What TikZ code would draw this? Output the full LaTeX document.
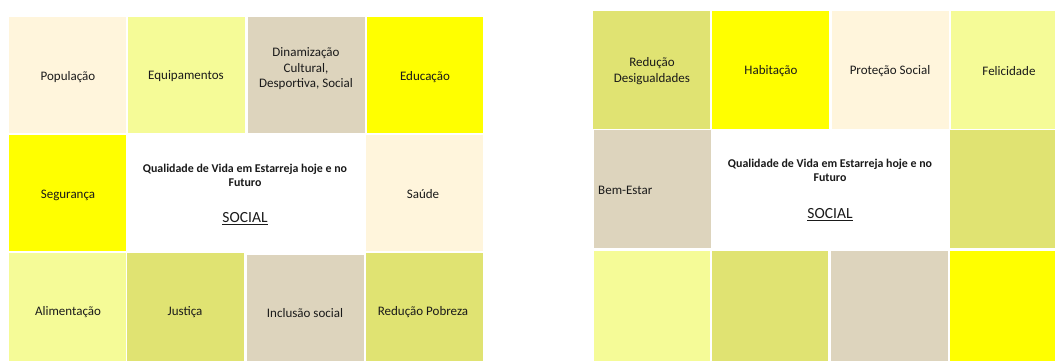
\documentclass[tikz,border=0pt]{standalone}
\usepackage{fontspec}
\setmainfont{Carlito}
\definecolor{cream}{HTML}{FFF5DC}
\definecolor{lightyel}{HTML}{F5FB97}
\definecolor{tan}{HTML}{DDD4BD}
\definecolor{yel}{HTML}{FFFF00}
\definecolor{olive}{HTML}{E0E372}
\definecolor{txt}{HTML}{1A1A1A}
\newcommand\cellbox[6]{\node[box,fill=#2,minimum width=#5pt-#3pt,minimum height=#6pt-#4pt] (#1) at (#3,#4) {};}
\begin{document}
\begin{tikzpicture}[x=1pt,y=-1pt,
  box/.style={draw=none,inner sep=0pt,outer sep=0pt,anchor=north west},
  lbl/.style={font=\fontsize{13}{15.5}\selectfont,text=txt,align=center,inner sep=0pt},
  title/.style={font=\bfseries\fontsize{11.9}{14}\selectfont,text=txt,align=center,inner sep=0pt},
  soc/.style={font=\fontsize{15.5}{18}\selectfont,text=txt,inner sep=0pt}]
\useasboundingbox (0,0) rectangle (1055,360);
\clip (0,0) rectangle (1055,360);
\fill[white] (0,0) rectangle (1055,360);
% left grid
\cellbox{pop}{cream}{9}{17}{126}{133}
\cellbox{equip}{lightyel}{128}{17}{245}{133}
\cellbox{dinam}{tan}{248}{17}{365}{133}
\cellbox{educ}{yel}{367}{17}{483}{133}
\cellbox{seg}{yel}{9}{135}{126}{251}
\cellbox{saude}{cream}{366}{135}{483}{251}
\cellbox{alim}{lightyel}{9}{253}{126}{370}
\cellbox{just}{olive}{127}{253}{244}{370}
\cellbox{incl}{tan}{247}{255}{364}{372}
\cellbox{redp}{olive}{366}{253}{483}{370}
% right grid
\cellbox{redd}{olive}{593}{11}{710}{129}
\cellbox{hab}{yel}{712}{11}{829}{129}
\cellbox{prot}{cream}{832}{11}{949}{129}
\cellbox{feli}{lightyel}{951}{11}{1068}{129}
\cellbox{bem}{tan}{594}{130}{711}{248}
\cellbox{rmid}{olive}{950}{130}{1067}{248}
\cellbox{rba}{lightyel}{594}{251}{710}{368}
\cellbox{rbb}{olive}{712}{251}{828}{368}
\cellbox{rbc}{tan}{831}{251}{948}{368}
\cellbox{rbd}{yel}{950}{251}{1067}{368}
% left labels
\node[lbl] (tpop) at (68,77) {População};
\node[lbl] (tequip) at (186,76) {Equipamentos};
\node[lbl] (tdinam) at (306,69) {Dinamização\\Cultural,\\Desportiva, Social};
\node[lbl] (teduc) at (425,77) {Educação};
\node[lbl] (tseg) at (68,195) {Segurança};
\node[lbl] (tsaude) at (423,194) {Saúde};
\node[lbl] (talim) at (68,312) {Alimentação};
\node[lbl] (tjust) at (185,312) {Justiça};
\node[lbl] (tincl) at (305,313) {Inclusão social};
\node[lbl] (tredp) at (423,312) {Redução Pobreza};
\node[title] (lq) at (245,175) {Qualidade de Vida em Estarreja hoje e no\\Futuro};
\node[soc] (ls) at (245,219) {\underline{SOCIAL}};
% right labels
\node[lbl] (tredd) at (652,71) {Redução\\Desigualdades};
\node[lbl] (thab) at (771,71) {Habitação};
\node[lbl] (tprot) at (890,71) {Proteção Social};
\node[lbl] (tfeli) at (1009,71) {Felicidade};
\node[lbl,anchor=west] (tbem) at (598,190) {Bem-Estar};
\node[title] (rq) at (830,170.5) {Qualidade de Vida em Estarreja hoje e no\\Futuro};
\node[soc] (rs) at (830,215) {\underline{SOCIAL}};
\end{tikzpicture}
\end{document}
